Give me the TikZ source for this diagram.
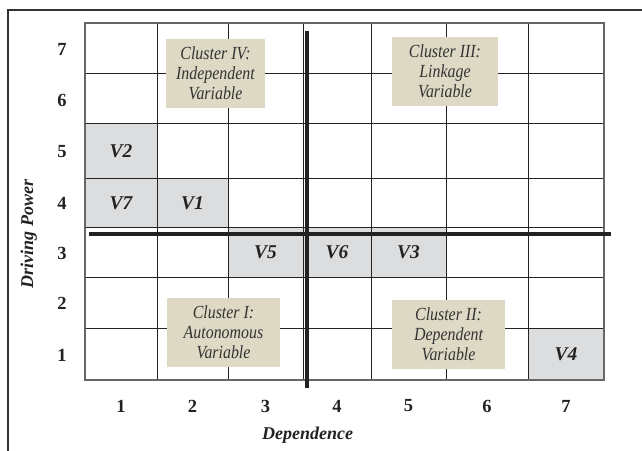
\documentclass[tikz,border=0pt]{standalone}
\usepackage{fontspec}
\setmainfont{Liberation Serif}
\newfontfamily\clusterfont[FakeStretch=0.86]{Liberation Serif}
\definecolor{cellgray}{HTML}{DCDDDF}
\definecolor{clusterbg}{HTML}{DDD9C4}
\definecolor{ink}{HTML}{222222}
\begin{document}
\begin{tikzpicture}[x=1pt,y=-1pt,
  gridline/.style={draw=ink, line width=0.9pt},
  borderline/.style={draw=black!60, line width=1.3pt},
  cellfill/.style={fill=cellgray},
  cluster/.style={fill=clusterbg, align=center, inner sep=0pt, text=black!80,
    font=\clusterfont\fontsize{18.5}{20}\selectfont\itshape},
  vlab/.style={text=ink, font=\fontsize{19.5}{20}\selectfont\bfseries\itshape},
  axnum/.style={text=ink, font=\fontsize{18.5}{20}\selectfont\bfseries},
  axtitle/.style={text=ink, font=\fontsize{18}{20}\selectfont\bfseries\itshape},
  divider/.style={line width=3.6pt, draw=ink},
  frame/.style={line width=2.7pt, draw=black!80}
]
\useasboundingbox (0,0) rectangle (642,450);
% outer frame
\draw[frame] (8,460) -- (8,10) -- (660,10);
% shaded cells
\fill[cellfill] (85,123) rectangle (157,178);
\fill[cellfill] (85,178) rectangle (157,227);
\fill[cellfill] (157,178) rectangle (228,227);
\fill[cellfill] (228,227) rectangle (303,277);
\fill[cellfill] (303,227) rectangle (371,277);
\fill[cellfill] (371,227) rectangle (446,277);
\fill[cellfill] (528,328) rectangle (604,380);
% grid
\foreach \x in {157,228,303,371,446,528}
  \draw[gridline] (\x,23) -- (\x,380);
\foreach \y in {73,123,178,227,277,328}
  \draw[gridline] (85,\y) -- (604,\y);
\draw[borderline] (85,23) rectangle (604,380);
% cluster boxes
\node[cluster, minimum width=99pt, minimum height=69pt] (c4) at (215.5,73.5) {Cluster IV:\\Independent\\Variable};
\node[cluster, minimum width=106pt, minimum height=69pt] (c3) at (445,71.5) {Cluster III:\\Linkage\\Variable};
\node[cluster, minimum width=113pt, minimum height=69pt] (c1) at (223.5,332.5) {Cluster I:\\Autonomous\\Variable};
\node[cluster, minimum width=113pt, minimum height=69pt] (c2) at (448.5,334.5) {Cluster II:\\Dependent\\Variable};
% dividers
\coordinate (hl) at (89,234);
\coordinate (hr) at (611,234);
\coordinate (vt) at (307,31);
\coordinate (vb) at (307,388);
\draw[divider] (hl) -- (hr);
\draw[divider] (vt) -- (vb);
% variable labels
\node[vlab] (v2) at (121,151) {V2};
\node[vlab] (v7) at (121,203) {V7};
\node[vlab] (v1) at (192.5,203) {V1};
\node[vlab] (v5) at (265.5,252) {V5};
\node[vlab] (v6) at (337,252) {V6};
\node[vlab] (v3) at (408.5,252) {V3};
\node[vlab] (v4) at (566,354) {V4};
% row numbers
\node[axnum] (r7) at (62,49) {7};
\node[axnum] (r6) at (62,100) {6};
\node[axnum] (r5) at (62,152) {5};
\node[axnum] (r4) at (62,203) {4};
\node[axnum] (r3) at (62,253) {3};
\node[axnum] (r2) at (62,303) {2};
\node[axnum] (r1) at (62,355) {1};
% column numbers
\node[axnum] (k1) at (121,406) {1};
\node[axnum] (k2) at (192.5,406) {2};
\node[axnum] (k3) at (265.5,406) {3};
\node[axnum] (k4) at (337,406) {4};
\node[axnum] (k5) at (408.5,406) {5};
\node[axnum] (k6) at (487,406) {6};
\node[axnum] (k7) at (566,406) {7};
% axis titles
\node[axtitle, anchor=base] (dep) at (307.5,439) {Dependence};
\node[axtitle, anchor=base, rotate=90] (drv) at (33,234) {Driving Power};
\end{tikzpicture}
\end{document}
